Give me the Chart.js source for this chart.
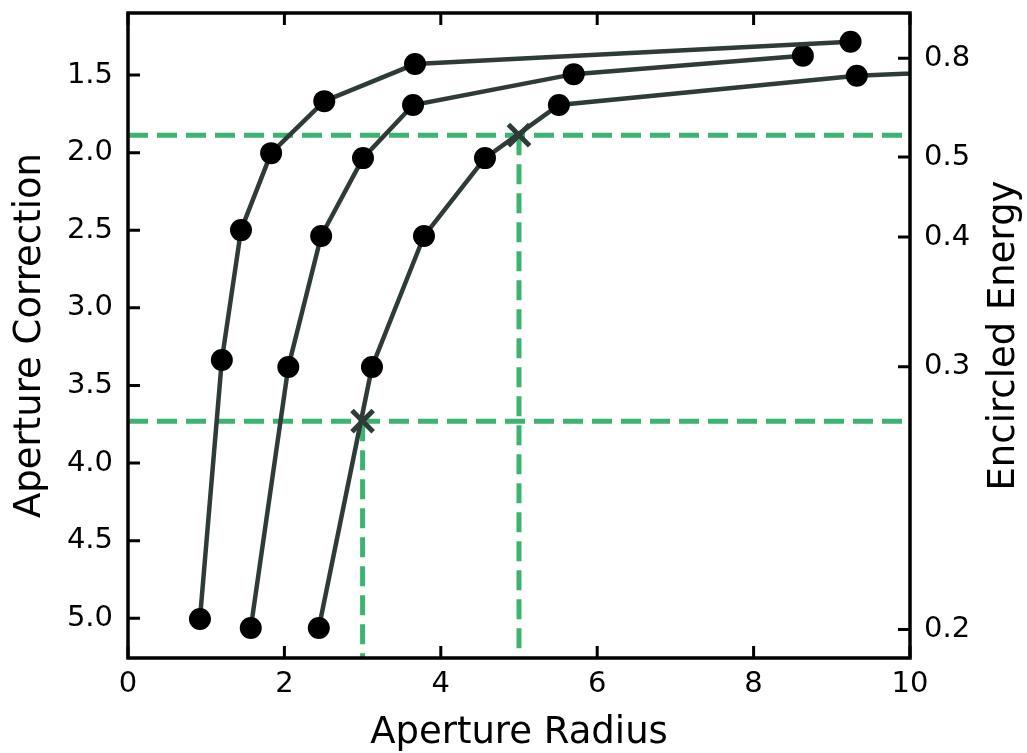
<!DOCTYPE html>
<html>
<head>
<meta charset="utf-8">
<script src="https://cdn.jsdelivr.net/npm/chart.js@4/dist/chart.umd.min.js"></script>
<style>
  body { margin: 0; background: #fff; }
</style>
</head>
<body>
<canvas id="chart" width="1027" height="753"></canvas>
<script>
// curves: aperture radius vs aperture correction
const s1Radius = [0.92, 1.20, 1.445, 1.83, 2.51, 3.67, 9.24];
const s1Corr = [5.005, 3.336, 2.499, 2.003, 1.668, 1.429, 1.285];
const s2Radius = [1.57, 2.05, 2.47, 3.005, 3.645, 5.70, 8.63];
const s2Corr = [5.063, 3.381, 2.537, 2.035, 1.693, 1.494, 1.376];
const s3Radius = [2.44, 3.12, 3.785, 4.565, 5.51, 9.32, 12.0];
const s3Corr = [5.063, 3.381, 2.537, 2.035, 1.693, 1.504, 1.446];

// marked apertures
const markRadius = [3, 5];
const markCorr = [3.73, 1.887];

// axes
const radiusTicks = [0, 2, 4, 6, 8, 10];
const corrTicks = [1.5, 2.0, 2.5, 3.0, 3.5, 4.0, 4.5, 5.0];
const eeLabels = ['0.2', '0.3', '0.4', '0.5', '0.8'];
const eeTickCorr = [5.072, 3.380, 2.544, 2.028, 1.392];
const corrMin = 1.1;
const corrMax = 5.256;

const lineColor = '#2f3b36';
const guideColor = '#3cb371';
const tickFont = { family: 'DejaVu Sans', size: 29 };

function pts(xs, ys) {
    return xs.map((x, i) => ({ x: x, y: ys[i] }));
}

function curve(xs, ys) {
    return {
        data: pts(xs, ys),
        showLine: true,
        borderColor: lineColor,
        borderWidth: 4.5,
        pointRadius: 11,
        pointBackgroundColor: '#000',
        pointBorderWidth: 0,
        clip: 0,
        order: 2
    };
}

function guide(data) {
    return {
        data: data,
        showLine: true,
        borderColor: guideColor,
        borderWidth: 5,
        borderDash: [20, 9],
        pointRadius: 0,
        clip: 0,
        order: 3
    };
}

const guides = [];
markRadius.forEach((r, i) => {
    guides.push(guide([{ x: 0, y: markCorr[i] }, { x: 10, y: markCorr[i] }]));
    guides.push(guide([{ x: r, y: markCorr[i] }, { x: r, y: corrMax }]));
});

function noPad(axis) {
    axis.paddingTop = 0;
    axis.paddingBottom = 0;
    axis.paddingLeft = 0;
    axis.paddingRight = 0;
}

const framePlugin = {
    id: 'frame',
    afterDatasetsDraw(chart) {
        const { ctx, chartArea: a, scales } = chart;
        ctx.save();
        ctx.strokeStyle = '#000';
        ctx.lineWidth = 3;
        ctx.beginPath();
        radiusTicks.forEach(v => {
            const px = scales.x.getPixelForValue(v);
            ctx.moveTo(px, a.bottom); ctx.lineTo(px, a.bottom - 12);
            ctx.moveTo(px, a.top); ctx.lineTo(px, a.top + 12);
        });
        corrTicks.forEach(v => {
            const py = scales.y.getPixelForValue(v);
            ctx.moveTo(a.left, py); ctx.lineTo(a.left + 12, py);
        });
        eeTickCorr.forEach(v => {
            const py = scales.y2.getPixelForValue(v);
            ctx.moveTo(a.right, py); ctx.lineTo(a.right - 12, py);
        });
        ctx.stroke();
        ctx.lineWidth = 3.5;
        ctx.strokeRect(a.left, a.top, a.right - a.left, a.bottom - a.top);

        // axis titles
        const midY = (a.top + a.bottom) / 2;
        ctx.fillStyle = '#000';
        ctx.font = '37px "DejaVu Sans"';
        ctx.textAlign = 'center';
        ctx.textBaseline = 'alphabetic';
        ctx.fillText('Aperture Radius', (a.left + a.right) / 2, a.bottom + 85);
        ctx.save();
        ctx.translate(40, midY);
        ctx.rotate(-Math.PI / 2);
        ctx.fillText('Aperture Correction', 0, 0);
        ctx.restore();
        ctx.save();
        ctx.translate(a.right + 104, midY);
        ctx.rotate(-Math.PI / 2);
        ctx.fillText('Encircled Energy', 0, 0);
        ctx.restore();
        ctx.restore();
    }
};

new Chart(document.getElementById('chart'), {
    type: 'scatter',
    data: {
        datasets: [
            curve(s1Radius, s1Corr),
            curve(s2Radius, s2Corr),
            curve(s3Radius, s3Corr),
            {
                data: pts(markRadius, markCorr),
                pointStyle: 'crossRot',
                pointRadius: 15,
                pointBorderWidth: 5,
                pointBorderColor: lineColor,
                borderColor: lineColor,
                showLine: false,
                clip: 0,
                order: 1
            },
            ...guides
        ]
    },
    options: {
        responsive: false,
        animation: false,
        layout: { autoPadding: false, padding: { top: 13, left: 0, right: 0, bottom: 0 } },
        plugins: { legend: { display: false }, tooltip: { enabled: false } },
        scales: {
            x: {
                type: 'linear',
                min: 0,
                max: 10,
                grid: { display: false, drawTicks: false },
                border: { display: false },
                afterBuildTicks: axis => { axis.ticks = radiusTicks.map(v => ({ value: v })); },
                afterFit: axis => { axis.height = 95; noPad(axis); },
                ticks: { color: '#000', font: tickFont, padding: 9, maxRotation: 0, callback: v => String(v) }
            },
            y: {
                type: 'linear',
                position: 'left',
                reverse: true,
                min: corrMin,
                max: corrMax,
                grid: { display: false, drawTicks: false },
                border: { display: false },
                afterBuildTicks: axis => { axis.ticks = corrTicks.map(v => ({ value: v })); },
                afterFit: axis => { axis.width = 128; noPad(axis); },
                ticks: { color: '#000', font: tickFont, padding: 15, callback: v => v.toFixed(1) }
            },
            y2: {
                type: 'linear',
                position: 'right',
                reverse: true,
                min: corrMin,
                max: corrMax,
                grid: { display: false, drawTicks: false },
                border: { display: false },
                afterBuildTicks: axis => { axis.ticks = eeTickCorr.map(v => ({ value: v })); },
                afterFit: axis => { axis.width = 117; noPad(axis); },
                ticks: { color: '#000', font: tickFont, padding: 14, callback: (v, i) => eeLabels[i] }
            }
        }
    },
    plugins: [framePlugin]
});
</script>
</body>
</html>
